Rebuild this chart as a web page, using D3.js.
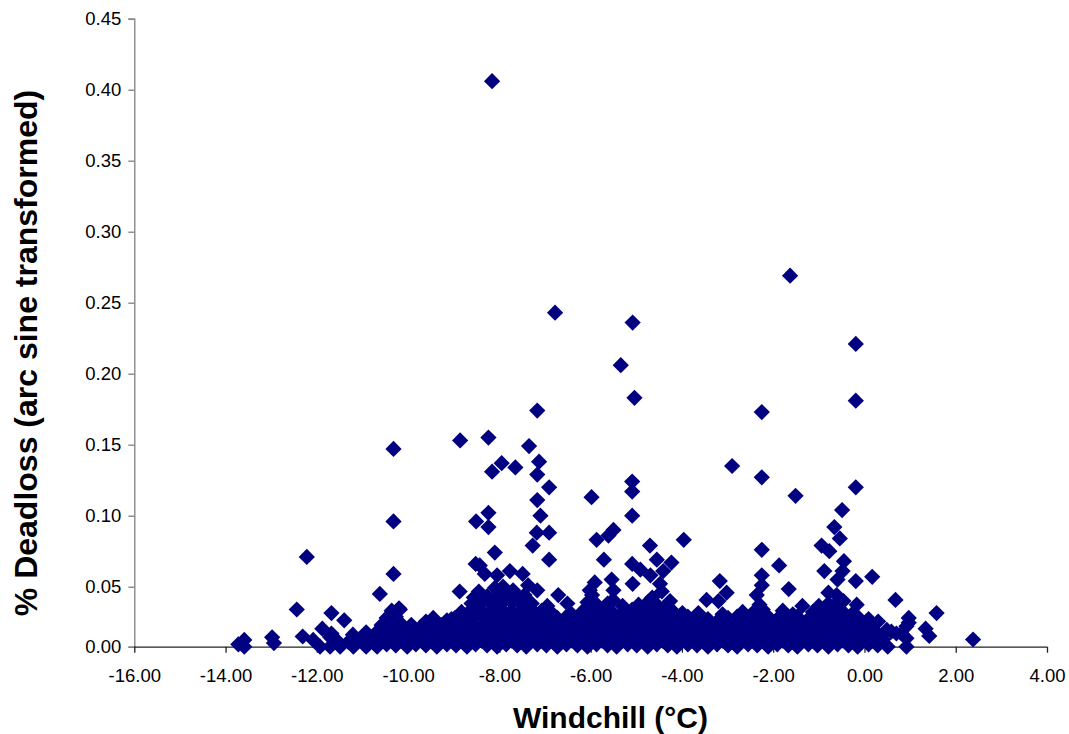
<!DOCTYPE html>
<html>
<head>
<meta charset="utf-8">
<script src="https://cdn.jsdelivr.net/npm/d3@7"></script>
<style>
  body { margin: 0; background: #fff; }
  svg { display: block; font-family: "Liberation Sans", Arial, sans-serif; }
</style>
</head>
<body>
<svg id="chart" width="1069" height="734"></svg>
<script>
// tick labels
var xTicks = [-16, -14, -12, -10, -8, -6, -4, -2, 0, 2, 4];
var yTicks = [0, 0.05, 0.10, 0.15, 0.20, 0.25, 0.30, 0.35, 0.40, 0.45];

// [windchill, deadloss]: scattered points
var outliers = [
  [-8.16,0.406],[-1.63,0.269],[-6.78,0.243],[-5.08,0.236],[-0.19,0.221],[-5.34,0.206],
  [-5.04,0.183],[-0.19,0.181],[-7.17,0.174],[-2.25,0.173],[-8.86,0.153],[-8.24,0.155],
  [-10.32,0.147],[-7.35,0.149],[-7.13,0.138],[-7.95,0.137],[-7.65,0.134],[-8.16,0.131],
  [-7.17,0.129],[-2.90,0.135],[-2.25,0.127],[-5.09,0.124],[-5.09,0.117],[-0.19,0.120],
  [-6.91,0.120],[-1.51,0.114],[-5.98,0.113],[-7.17,0.111],[-8.24,0.102],[-7.10,0.100],
  [-5.09,0.100],[-0.49,0.104],[-10.32,0.096],[-8.51,0.096],[-8.24,0.092],[-0.66,0.092],
  [-5.50,0.090],[-7.18,0.088],[-6.91,0.088],[-5.61,0.086],[-0.54,0.084],[-5.87,0.083],
  [-3.96,0.083],[-7.27,0.079],[-4.70,0.079],[-0.94,0.079],[-0.77,0.075],[-2.25,0.076],
  [-8.10,0.074],[-12.22,0.071],[-5.71,0.069],[-6.91,0.069],[-4.55,0.069],[-0.45,0.068],
  [-4.23,0.067],[-8.43,0.065],[-8.52,0.066],[-1.87,0.065],[-5.09,0.066],[-4.91,0.062],
  [-4.41,0.061],[-7.77,0.061],[-0.88,0.061],[-0.48,0.061],[-10.32,0.059],[-8.32,0.059],
  [-8.05,0.058],[-7.49,0.059],[-4.69,0.058],[-2.25,0.058],[-0.59,0.055],[0.17,0.057],
  [-5.54,0.055],[-5.91,0.053],[-3.17,0.054],[-0.19,0.054],[-4.48,0.052],[-5.08,0.052],
  [-7.37,0.051],[-2.25,0.051],[-7.92,0.050],[-8.10,0.049],[-6.02,0.047],[-5.50,0.047],
  [-7.17,0.047],[-8.87,0.046],[-4.44,0.046],[-1.66,0.048],[-3.02,0.045],[-0.79,0.045],
  [-10.62,0.044],[-2.36,0.043],[-6.71,0.043],[-0.61,0.043],[-8.56,0.041],[-5.51,0.039],
  [-3.46,0.039],[0.68,0.039],[-3.20,0.038],[-4.26,0.038],[-0.46,0.038],[-7.37,0.037],
  [-6.51,0.036],[-5.87,0.035],[-8.56,0.035],[-1.36,0.034],[-0.17,0.035],[-10.20,0.032],
  [-12.44,0.031],[-10.18,0.031],[-11.68,0.028],[-3.64,0.028],[1.58,0.028],[-9.45,0.024],
  [-9.05,0.023],[-11.40,0.022],[-8.97,0.024],[0.97,0.024],[0.30,0.021],[-9.93,0.018],
  [0.97,0.020],[0.92,0.017],[-11.88,0.015],[1.34,0.015],[-10.64,0.014],[0.49,0.014],
  [0.59,0.0125],[-10.92,0.012],[-11.68,0.011],[0.70,0.011],[0.81,0.011],[-11.21,0.010],
  [-12.31,0.0085],[1.42,0.009],[-11.71,0.008],[-12.98,0.0078],[0.92,0.007],[2.38,0.006],
  [-13.59,0.0056],[-12.08,0.0056],[-11.57,0.0056],[-11.05,0.0056],[-10.64,0.0056],[-11.31,0.004],
  [-12.94,0.003],[-13.72,0.002],[-13.59,0.000],[-11.93,0.000],[-11.71,0.000],[-11.49,0.000],
  [-11.20,0.000],[-10.92,0.000],[0.92,0.000]
];

// the dense mass near zero, read row by row
var bandA = [
  [-10.91,0.001],[-10.68,0],[-10.47,0.002],[-10.27,0.001],[-10.02,0],[-9.83,0.002],[-9.61,0.001],[-9.37,0],
  [-9.15,0.002],[-8.95,0.001],[-8.71,0],[-8.52,0.002],[-8.27,0.001],[-8.05,0],[-7.85,0.002],[-7.61,0.001],
  [-7.41,0],[-7.17,0.002],[-6.97,0.001],[-6.73,0],[-6.53,0.002],[-6.29,0.001],[-6.07,0],[-5.87,0.002],
  [-5.63,0.001],[-5.43,0],[-5.19,0.002],[-4.99,0.001],[-4.75,0],[-4.55,0.002],[-4.31,0.001],[-4.11,0],
  [-3.87,0.002],[-3.67,0.001],[-3.43,0],[-3.23,0.002],[-2.99,0.001],[-2.79,0],[-2.55,0.002],[-2.35,0.001],
  [-2.11,0],[-1.91,0.002],[-1.67,0.001],[-1.47,0],[-1.23,0.002],[-1.03,0.001],[-0.79,0],[-0.59,0.002],
  [-0.35,0.001],[-0.15,0],[0.09,0.002],[0.29,0.001],[0.51,0]
];
var bandB = [
  [-10.79,0.006],[-10.58,0.007],[-10.36,0.005],[-10.15,0.006],[-9.93,0.007],[-9.71,0.005],[-9.49,0.006],
  [-9.27,0.007],[-9.05,0.005],[-8.83,0.006],[-8.61,0.007],[-8.39,0.005],[-8.17,0.006],[-7.95,0.007],
  [-7.73,0.005],[-7.51,0.006],[-7.29,0.007],[-7.07,0.005],[-6.85,0.006],[-6.63,0.007],[-6.41,0.005],
  [-6.19,0.006],[-5.97,0.007],[-5.75,0.005],[-5.53,0.006],[-5.31,0.007],[-5.09,0.005],[-4.87,0.006],
  [-4.65,0.007],[-4.43,0.005],[-4.21,0.006],[-3.99,0.007],[-3.77,0.005],[-3.55,0.006],[-3.33,0.007],
  [-3.11,0.005],[-2.89,0.006],[-2.67,0.007],[-2.45,0.005],[-2.23,0.006],[-2.01,0.007],[-1.79,0.005],
  [-1.57,0.006],[-1.35,0.007],[-1.13,0.005],[-0.91,0.006],[-0.69,0.007],[-0.47,0.005],[-0.25,0.006],
  [-0.03,0.007],[0.19,0.005],[0.41,0.006]
];
var bandC = [
  [-10.68,0.012],[-10.47,0.013],[-10.27,0.011],[-10.02,0.012],[-9.83,0.013],[-9.61,0.011],[-9.37,0.012],
  [-9.15,0.013],[-8.95,0.011],[-8.71,0.012],[-8.52,0.013],[-8.27,0.011],[-8.05,0.012],[-7.85,0.013],
  [-7.61,0.011],[-7.41,0.012],[-7.17,0.013],[-6.97,0.011],[-6.73,0.012],[-6.53,0.013],[-6.29,0.011],
  [-6.07,0.012],[-5.87,0.013],[-5.63,0.011],[-5.43,0.012],[-5.19,0.013],[-4.99,0.011],[-4.75,0.012],
  [-4.55,0.013],[-4.31,0.011],[-4.11,0.012],[-3.87,0.013],[-3.67,0.011],[-3.43,0.012],[-3.23,0.013],
  [-2.99,0.011],[-2.79,0.012],[-2.55,0.013],[-2.35,0.011],[-2.11,0.012],[-1.91,0.013],[-1.67,0.011],
  [-1.47,0.012],[-1.23,0.013],[-1.03,0.011],[-0.79,0.012],[-0.59,0.013],[-0.35,0.011],[-0.15,0.012],
  [0.09,0.013],[0.29,0.011]
];
var bandD = [
  [-10.58,0.018],[-10.36,0.017],[-10.15,0.019],[-9.93,0.018],[-9.71,0.017],[-9.49,0.019],[-9.27,0.018],
  [-9.05,0.017],[-8.83,0.019],[-8.61,0.018],[-8.39,0.017],[-8.17,0.019],[-7.95,0.018],[-7.73,0.017],
  [-7.51,0.019],[-7.29,0.018],[-7.07,0.017],[-6.85,0.019],[-6.63,0.018],[-6.41,0.017],[-6.19,0.019],
  [-5.97,0.018],[-5.75,0.017],[-5.53,0.019],[-5.31,0.018],[-5.09,0.017],[-4.87,0.019],[-4.65,0.018],
  [-4.43,0.017],[-4.21,0.019],[-3.99,0.018],[-3.77,0.017],[-3.55,0.019],[-3.33,0.018],[-3.11,0.017],
  [-2.89,0.019],[-2.67,0.018],[-2.45,0.017],[-2.23,0.019],[-2.01,0.018],[-1.79,0.017],[-1.57,0.019],
  [-1.35,0.018],[-1.13,0.017],[-0.91,0.019],[-0.69,0.018],[-0.47,0.017],[-0.25,0.019],[-0.03,0.018],
  [0.19,0.017]
];
var bandE = [
  [-10.47,0.024],[-10.27,0.025],[-8.95,0.023],[-8.71,0.024],[-8.52,0.025],[-8.27,0.023],[-8.05,0.024],
  [-7.85,0.025],[-7.61,0.023],[-7.41,0.024],[-7.17,0.025],[-6.97,0.023],[-6.73,0.024],[-6.53,0.025],
  [-6.29,0.023],[-6.07,0.024],[-5.87,0.025],[-5.63,0.023],[-5.43,0.024],[-5.19,0.025],[-4.99,0.023],
  [-4.75,0.024],[-4.55,0.025],[-4.31,0.023],[-4.11,0.024],[-3.87,0.025],[-3.43,0.023],[-2.99,0.024],
  [-2.79,0.025],[-2.55,0.023],[-2.35,0.024],[-2.11,0.025],[-1.91,0.023],[-1.67,0.024],[-1.47,0.025],
  [-1.23,0.023],[-1.03,0.024],[-0.79,0.025],[-0.59,0.023],[-0.35,0.024],[-0.15,0.025],[0.09,0.023],
  [-3.67,0.022],[-3.23,0.021],[-9.61,0.021],[-9.15,0.022]
];
var bandF = [
  [-10.36,0.030],[-8.83,0.029],[-8.61,0.031],[-8.39,0.030],[-8.17,0.029],[-7.95,0.031],[-7.73,0.030],
  [-7.51,0.029],[-7.29,0.031],[-7.07,0.030],[-6.19,0.029],[-5.97,0.031],[-5.75,0.030],[-5.53,0.029],
  [-5.09,0.031],[-4.87,0.030],[-4.65,0.029],[-4.43,0.031],[-4.21,0.030],[-2.67,0.029],[-2.23,0.031],
  [-1.79,0.030],[-1.13,0.029],[-0.91,0.031],[-0.69,0.030],[-0.47,0.029],[-6.85,0.028],[-6.41,0.027],
  [-5.31,0.028],[-3.99,0.028],[-3.11,0.027],[-2.45,0.028],[-1.57,0.027],[-0.25,0.028]
];
var bandG = [
  [-8.61,0.036],[-8.39,0.037],[-8.17,0.035],[-7.95,0.036],[-7.73,0.037],[-7.51,0.035],[-7.29,0.036],
  [-6.07,0.037],[-5.87,0.035],[-5.63,0.036],[-4.75,0.037],[-4.55,0.035],[-0.79,0.036],[-0.59,0.037],
  [-6.95,0.034],[-5.30,0.034],[-4.95,0.035],[-4.35,0.034],[-2.30,0.035],[-1.00,0.034]
];
var bandH = [
  [-8.27,0.042],[-8.05,0.043],[-7.85,0.041],[-7.61,0.042],[-5.97,0.043],[-4.65,0.041],
  [-8.45,0.046],[-7.70,0.047],[-7.45,0.043]
];

var points = [].concat(bandA, bandB, bandC, bandD, bandE, bandF, bandG, bandH, outliers);

var svg = d3.select('#chart');
svg.append('rect').attr('width', 1069).attr('height', 734).attr('fill', '#fff');

var x = d3.scaleLinear().domain([-16, 4]).range([134.3, 1047]);
// the lowest band of the value axis is drawn a bit shorter than the others
var y = d3.scaleLinear().domain([0, 0.05, 0.45]).range([646.7, 586.7, 18.7]);

var fmt = function(d) { return d.toFixed(2); };

var yAxis = svg.append('g')
  .attr('transform', 'translate(' + x(-16) + ',0)')
  .call(d3.axisLeft(y).tickValues(yTicks).tickFormat(fmt).tickSize(6).tickPadding(7));
yAxis.selectAll('path, line').attr('stroke', '#808080').attr('stroke-width', 1.3);
yAxis.selectAll('text').attr('font-size', '18.5px').attr('fill', '#000')
  .style('font-family', '"Liberation Sans", Arial, sans-serif');

var xAxis = svg.append('g')
  .attr('transform', 'translate(0,' + y(0) + ')')
  .call(d3.axisBottom(x).tickValues(xTicks).tickFormat(fmt).tickSize(6).tickPadding(16));
xAxis.select('.domain').attr('d', 'M' + x(-16) + ',0.5H' + x(4));
xAxis.selectAll('path, line').attr('stroke', '#222').attr('stroke-width', 1.3);
xAxis.selectAll('text').attr('font-size', '18.5px').attr('fill', '#000')
  .style('font-family', '"Liberation Sans", Arial, sans-serif');

var diamond = d3.symbol().type(d3.symbolSquare).size(132);

svg.append('g').selectAll('path')
  .data(points)
  .enter().append('path')
  .attr('d', diamond)
  .attr('transform', function(d) {
    return 'translate(' + x(d[0]) + ',' + y(d[1]) + ') rotate(45)';
  })
  .attr('fill', '#000080');

svg.append('text')
  .attr('x', 610.5).attr('y', 728)
  .attr('text-anchor', 'middle')
  .attr('font-size', '30px').attr('font-weight', 'bold')
  .text('Windchill (°C)');

svg.append('text')
  .attr('transform', 'translate(37,353) rotate(-90)')
  .attr('text-anchor', 'middle')
  .attr('font-size', '32px').attr('font-weight', 'bold')
  .text('% Deadloss (arc sine transformed)');
</script>
</body>
</html>
